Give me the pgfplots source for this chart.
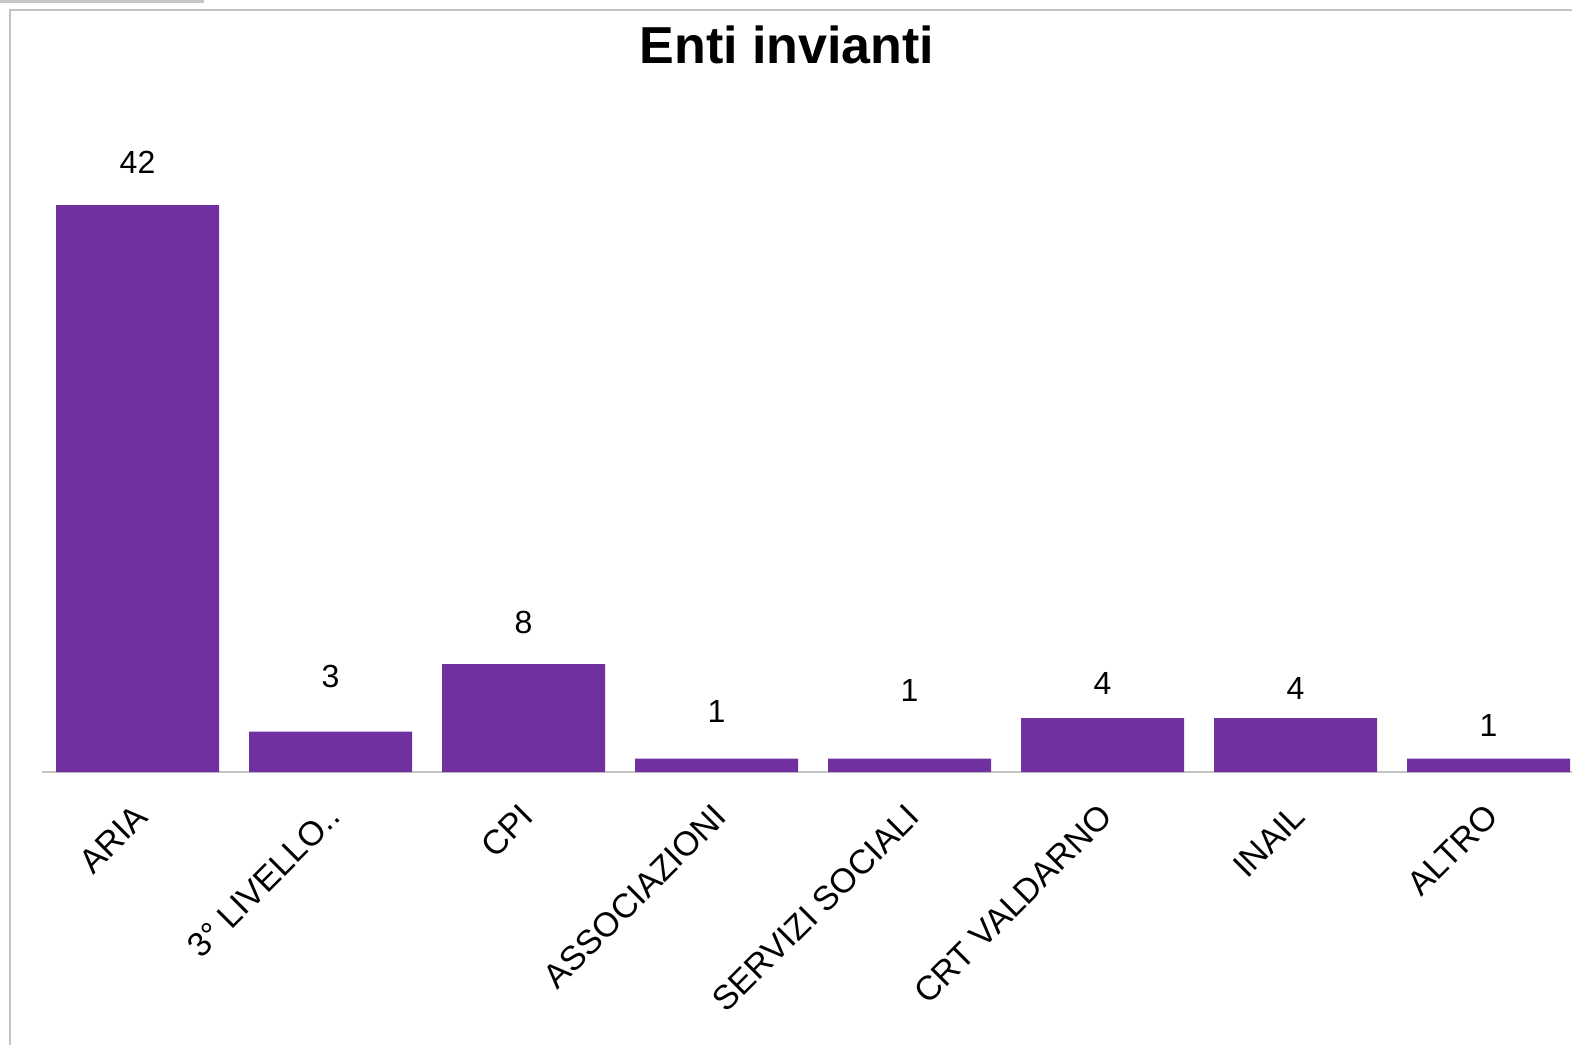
\documentclass[border=0pt]{standalone}
\usepackage{pgfplots}
\usepackage{pgfplotstable}
\usepackage{fontspec}
\setmainfont{Liberation Sans}
\pgfplotsset{compat=1.18}
\definecolor{barpurple}{HTML}{7030A0}
\definecolor{framegray}{HTML}{C4C4C4}

% x, value, label offset (pt)
\pgfplotstableread{
x y off
0 42 21.5
1 3  27.5
2 8  21
3 1  23.5
4 1  34
5 4  17.5
6 4  15
7 1  16.5
}\enti

\begin{document}
\begin{tikzpicture}
\useasboundingbox (0,0) rectangle (786pt,522.5pt);
% frame and shadow
\fill[gray!45] (0,522.5pt) rectangle (102pt,521pt);
\draw[framegray, line width=1pt] (4.8pt,0) -- (4.8pt,517.7pt) -- (790pt,517.7pt);
\node[font=\bfseries\fontsize{26pt}{30pt}\selectfont] at (393.5pt,500pt) {Enti invianti};
\begin{axis}[
    at={(21pt,136.5pt)}, anchor=south west,
    scale only axis,
    width=771.5pt, height=303.75pt,
    xmin=-0.495, xmax=7.5,
    ymin=0, ymax=45,
    axis y line=none,
    axis x line*=bottom,
    x axis line style={draw=framegray, line width=1pt},
    major tick length=0pt,
    xtick={0,...,7},
    xticklabels={ARIA, 3° LIVELLO.., CPI, ASSOCIAZIONI, SERVIZI SOCIALI, CRT VALDARNO, INAIL, ALTRO},
    xticklabel style={rotate=45, anchor=east, font=\fontsize{17pt}{20pt}\selectfont, xshift=-9pt, yshift=-15pt},
    clip=false,
]
\addplot[ybar, bar width=81.5pt, fill=barpurple, draw=none,
    visualization depends on={\thisrow{off} \as \off},
    nodes near coords,
    nodes near coords style={anchor=center, yshift=\off pt, font=\fontsize{16pt}{19pt}\selectfont, text=black,
        /pgf/number format/assume math mode=true},
] table[x=x, y=y] {\enti};
\end{axis}
\end{tikzpicture}
\end{document}
